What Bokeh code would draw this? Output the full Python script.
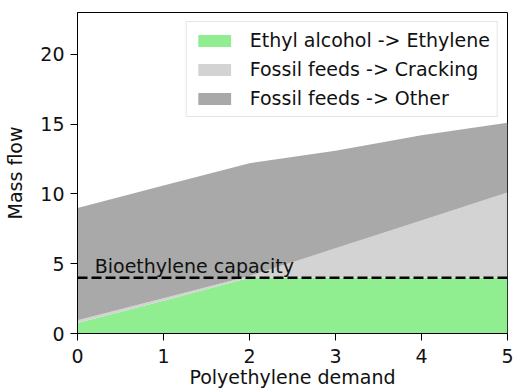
from bokeh.plotting import figure
from bokeh.models import ColumnDataSource, Range1d, FixedTicker, Label
from bokeh.embed import file_html
from bokeh.resources import INLINE

# data
demand = [0, 1, 2, 3, 4, 5]
ethyl_alcohol = [0.75, 2.35, 4.0, 4.0, 4.0, 4.0]
cracking = [0.2, 0.18, 0.12, 2.1, 4.1, 6.1]
other = [8.05, 8.07, 8.08, 7.0, 6.1, 5.0]
series_names = ["Ethyl alcohol -> Ethylene", "Fossil feeds -> Cracking", "Fossil feeds -> Other"]
series_colors = ["#90ee90", "#d3d3d3", "#a9a9a9"]
capacity = 4.0
capacity_label = "Bioethylene capacity"
x_ticks = [0, 1, 2, 3, 4, 5]
y_ticks = [0, 5, 10, 15, 20]

FONT = "DejaVu Sans"
FS = "19px"

source = ColumnDataSource(dict(x=demand, eth=ethyl_alcohol, crack=cracking, other=other))

p = figure(width=514, height=392, output_backend="svg", toolbar_location=None,
           x_range=Range1d(0, 5), y_range=Range1d(0, 23),
           min_border_left=77, min_border_right=7, min_border_top=12, min_border_bottom=59)

p.varea_stack(stackers=["eth", "crack", "other"], x="x", color=series_colors,
              legend_label=series_names, source=source)

p.line(x=[min(demand), max(demand)], y=[capacity, capacity], line_color="black",
       line_width=2.5, line_dash="10 4")

p.add_layout(Label(x=0.2, y=capacity + 0.05, text=capacity_label, text_font=FONT,
                   text_font_size=FS, text_color="#111111", text_baseline="bottom"))

p.xgrid.visible = False
p.ygrid.visible = False
p.outline_line_color = "black"
p.outline_line_width = 1
p.outline_line_alpha = 1

for ax, ticks in ((p.xaxis[0], x_ticks), (p.yaxis[0], y_ticks)):
    ax.ticker = FixedTicker(ticks=ticks)
    ax.minor_tick_line_color = None
    ax.major_tick_in = 0
    ax.major_tick_out = 7
    ax.axis_line_color = "black"
    ax.major_tick_line_color = "black"
    ax.major_label_text_font = FONT
    ax.major_label_text_font_size = FS
    ax.major_label_text_color = "#111111"
    ax.axis_label_text_font = FONT
    ax.axis_label_text_font_size = FS
    ax.axis_label_text_font_style = "normal"
    ax.axis_label_text_color = "#111111"

p.xaxis.axis_label = "Polyethylene demand"
p.yaxis.axis_label = "Mass flow"
p.xaxis.major_label_standoff = 8
p.yaxis.major_label_standoff = 6
p.xaxis.axis_label_standoff = 0
p.yaxis.axis_label_standoff = 11

lg = p.legend[0]
lg.location = "top_right"
lg.margin = 9
lg.padding = 7
lg.spacing = 7
lg.glyph_width = 41
lg.glyph_height = 15
lg.label_standoff = 15
lg.label_text_font = FONT
lg.label_text_font_size = FS
lg.label_text_color = "#111111"
lg.border_line_color = "#cccccc"
lg.border_line_width = 1
lg.background_fill_color = "white"
lg.background_fill_alpha = 0.8

open("out.html", "w").write(file_html(p, INLINE))
